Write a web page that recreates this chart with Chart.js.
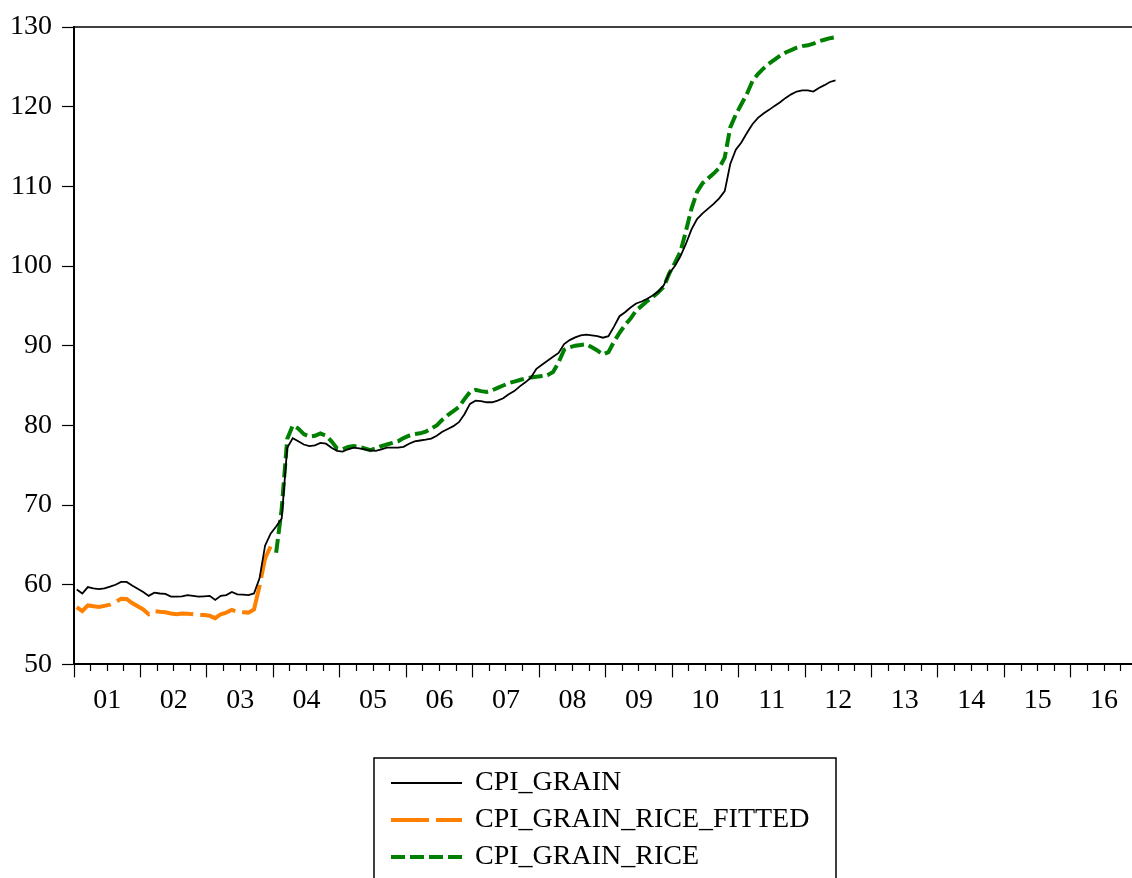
<!DOCTYPE html>
<html>
<head>
<meta charset="UTF-8">
<title>CPI_GRAIN</title>
<style>
    body { margin: 0; background: #fff; overflow: hidden; }
    canvas { display: block; }
</style>
</head>
<body>
<canvas id="chart" width="1132" height="878"></canvas>
<script src="https://cdn.jsdelivr.net/npm/chart.js"></script>
<script>
// monthly series, first observation 2001M01
const startYear = 2001;
const yearLabels = ['01','02','03','04','05','06','07','08','09','10','11','12','13','14','15','16'];

const cpiGrain = [
    59.4, 58.9, 59.7, 59.55, 59.45, 59.55, 59.75, 60.0, 60.35, 60.35, 59.9, 59.5,
    59.1, 58.6, 59.0, 58.9, 58.85, 58.5, 58.5, 58.55, 58.7, 58.6, 58.5, 58.55,
    58.6, 58.1, 58.6, 58.7, 59.1, 58.8, 58.75, 58.7, 58.9, 60.8, 64.9, 66.4,
    67.3, 68.3, 77.2, 78.4, 78.0, 77.6, 77.4, 77.5, 77.8, 77.7, 77.2, 76.8,
    76.7, 77.0, 77.2, 77.1, 77.0, 76.85, 76.8, 77.0, 77.2, 77.2, 77.2, 77.3,
    77.7, 78.0, 78.1, 78.2, 78.35, 78.7, 79.2, 79.55, 79.9, 80.4, 81.4, 82.7,
    83.1, 83.05, 82.9, 82.9, 83.1, 83.4, 83.9, 84.3, 84.9, 85.4, 86.0, 87.1,
    87.6, 88.1, 88.6, 89.1, 90.2, 90.7, 91.05, 91.3, 91.4, 91.3, 91.2, 91.0,
    91.2, 92.4, 93.7, 94.2, 94.8, 95.3, 95.55, 95.9, 96.3, 96.8, 97.6, 99.1,
    100.0, 101.2, 102.8, 104.6, 105.9, 106.6, 107.2, 107.8, 108.5, 109.4, 112.8, 114.6,
    115.5, 116.7, 117.8, 118.6, 119.15, 119.6, 120.1, 120.55, 121.1, 121.55, 121.9, 122.05,
    122.05, 121.9, 122.35, 122.7, 123.1, 123.3
];

// 2001M01 - 2003M12
const cpiGrainRiceFitted = [
    57.2, 56.7, 57.4, 57.3, 57.2, 57.35, 57.5, 57.8, 58.25, 58.2, 57.7, 57.3,
    56.9, 56.3, 56.7, 56.6, 56.55, 56.4, 56.3, 56.4, 56.35, 56.3, 56.2, 56.2,
    56.1, 55.8, 56.3, 56.5, 56.85, 56.6, 56.55, 56.5, 56.9, 59.8, 63.3, 64.8
];

// 2004M01 - 2012M06
const riceStart = 36;
const cpiGrainRice = [
    64.0, 69.5, 78.3, 80.0, 79.6, 78.9, 78.6, 78.7, 79.0, 78.7, 78.0, 77.1,
    77.0, 77.3, 77.4, 77.3, 77.1, 76.9, 77.1, 77.4, 77.6, 77.8, 78.0, 78.4,
    78.7, 78.9, 79.0, 79.2, 79.6, 80.0, 80.7, 81.3, 81.8, 82.3, 83.3, 84.2,
    84.45, 84.3, 84.2, 84.4, 84.7, 85.0, 85.3, 85.5, 85.7, 85.9, 86.0, 86.1,
    86.2, 86.3, 86.7, 87.9, 89.5, 89.8, 90.0, 90.1, 90.2, 89.8, 89.4, 88.9,
    89.2, 90.5, 91.6, 92.6, 93.4, 94.4, 95.0, 95.6, 96.1, 96.7, 97.4, 99.1,
    100.4, 101.8, 104.4, 107.2, 109.3, 110.4, 111.0, 111.6, 112.3, 113.6, 117.4, 119.0,
    120.3, 121.6, 123.2, 124.1, 124.8, 125.4, 125.9, 126.4, 126.8, 127.1, 127.4, 127.6,
    127.7, 127.9, 128.2, 128.4, 128.6, 128.7
];

// month i sits in the middle of its slot on the time axis
function toPoints(values, offset) {
    return values.map((v, i) => ({ x: startYear + (offset + i + 0.5) / 12, y: v }));
}

const quarterTicks = [];
for (let q = 0; q < yearLabels.length * 4; q++) quarterTicks.push(startYear + q / 4);

const font = { family: "'Liberation Serif', 'Times New Roman', serif", size: 28 };

// EViews style boxed legend under the plot, plus the top frame line
const boxLegend = {
    id: 'boxLegend',
    afterDraw(chart, args, opts) {
        const ctx = chart.ctx;
        const area = chart.chartArea;
        ctx.save();
        ctx.strokeStyle = '#000';
        ctx.lineWidth = 1.5;
        ctx.beginPath();
        ctx.moveTo(area.left, area.top);
        ctx.lineTo(area.right, area.top);
        ctx.stroke();

        ctx.strokeRect(opts.left, opts.top, opts.width, opts.height);
        ctx.font = font.size + 'px ' + font.family;
        ctx.textBaseline = 'middle';
        ctx.fillStyle = '#000';
        chart.data.datasets.forEach((ds, k) => {
            const y = opts.top + opts.firstRow + k * opts.rowGap;
            ctx.strokeStyle = ds.borderColor;
            ctx.lineWidth = ds.borderWidth;
            ctx.setLineDash(ds.borderDash || []);
            ctx.beginPath();
            ctx.moveTo(opts.left + 17, y);
            ctx.lineTo(opts.left + 88, y);
            ctx.stroke();
            ctx.setLineDash([]);
            ctx.fillText(ds.label, opts.left + 101, y);
        });
        ctx.restore();
    }
};

new Chart(document.getElementById('chart'), {
    type: 'line',
    data: {
        datasets: [{
            label: 'CPI_GRAIN',
            data: toPoints(cpiGrain, 0),
            borderColor: '#000000',
            borderWidth: 1.8
        }, {
            label: 'CPI_GRAIN_RICE_FITTED',
            data: toPoints(cpiGrainRiceFitted, 0),
            borderColor: '#ff8000',
            borderWidth: 4,
            borderDash: [38, 7]
        }, {
            label: 'CPI_GRAIN_RICE',
            data: toPoints(cpiGrainRice, riceStart),
            borderColor: '#008000',
            borderWidth: 4,
            borderDash: [14, 5]
        }]
    },
    options: {
        responsive: false,
        devicePixelRatio: 1,
        animation: false,
        layout: { padding: { top: 27, left: 0, right: 0, bottom: 155 } },
        elements: { point: { radius: 0 }, line: { tension: 0, fill: false } },
        plugins: {
            legend: { display: false },
            tooltip: { enabled: false },
            boxLegend: { left: 374, top: 758, width: 462, height: 140, firstRow: 25, rowGap: 37 }
        },
        scales: {
            x: {
                type: 'linear',
                min: startYear,
                max: 2016.92,
                afterBuildTicks: (scale) => { scale.ticks = quarterTicks.map(v => ({ value: v })); },
                border: { color: '#000', width: 2 },
                grid: {
                    drawOnChartArea: false,
                    tickLength: 13,
                    tickColor: '#000',
                    tickWidth: 1.2,
                    tickBorderDash: (ctx) => (ctx.tick && ctx.tick.value % 1 === 0) ? [] : [6, 40]
                },
                ticks: {
                    autoSkip: false,
                    maxRotation: 0,
                    minRotation: 0,
                    padding: 6,
                    color: '#000',
                    font: font,
                    callback: (value) => value % 1 === 0.5 ? yearLabels[Math.floor(value) - startYear] : ''
                }
            },
            y: {
                min: 50,
                max: 130,
                border: { color: '#000', width: 2 },
                grid: { drawOnChartArea: false, tickLength: 12, tickColor: '#000', tickWidth: 1.2 },
                ticks: { stepSize: 10, padding: 10, color: '#000', font: font }
            }
        }
    },
    plugins: [boxLegend]
});
</script>
</body>
</html>
